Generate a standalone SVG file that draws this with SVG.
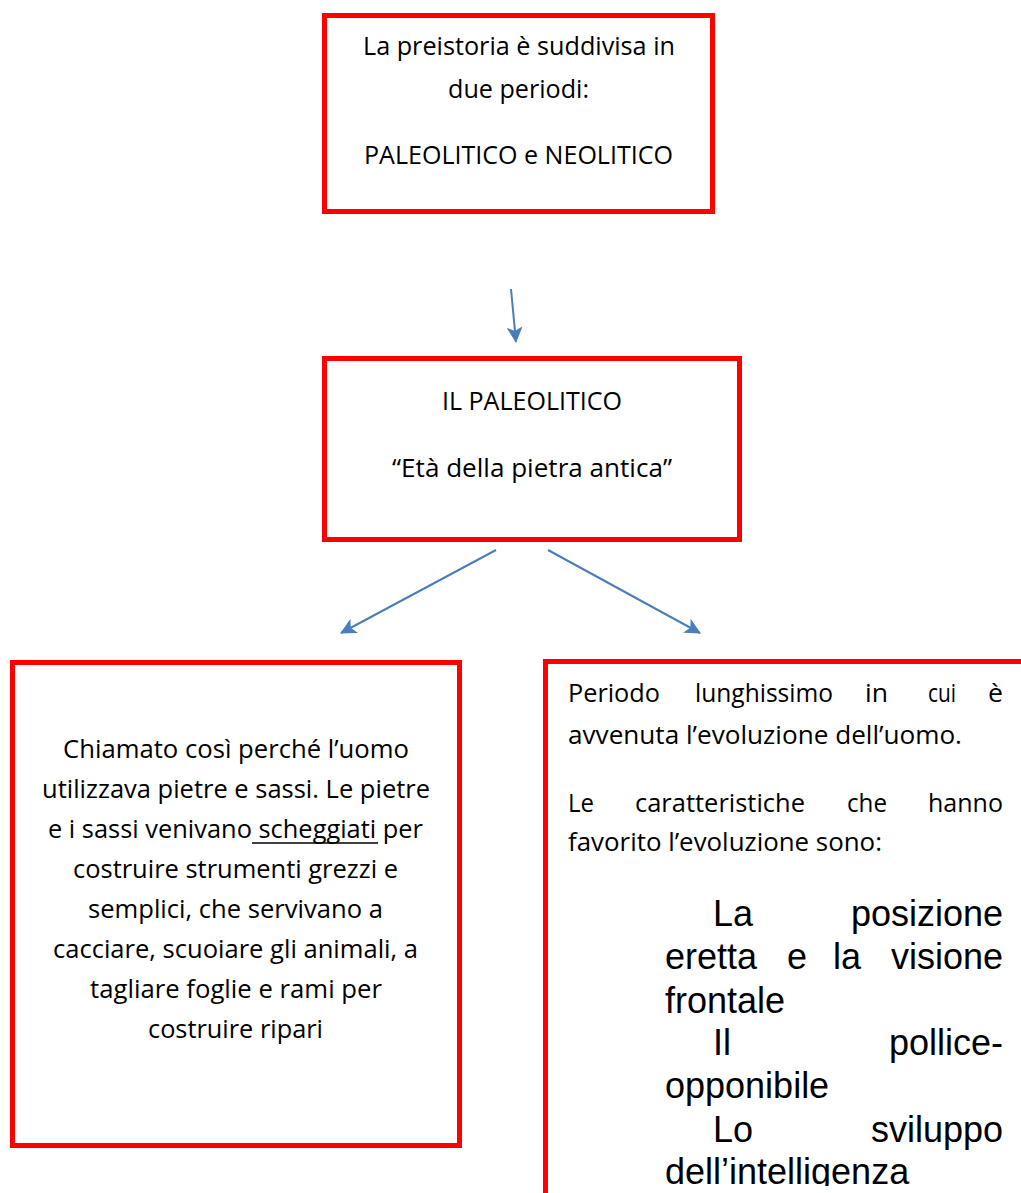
<svg xmlns="http://www.w3.org/2000/svg" width="1021" height="1193" viewBox="0 0 1021 1193">
<style>
.box{fill:#fff;stroke:#ff0000;stroke-width:5}
.c{font-family:"Open Sans",Lato,"Liberation Sans",sans-serif;font-size:26px;fill:#000}
.m{text-anchor:middle}
.e{text-anchor:end}
.a{font-family:"Liberation Sans",Arial,sans-serif;font-size:36px;fill:#000}
.conn{stroke:#4a7ebb;stroke-width:2;fill:none;marker-end:url(#ah)}
</style>
<defs>
<marker id="ah" viewBox="0 0 16 16" refX="15" refY="8" markerWidth="16" markerHeight="16" markerUnits="userSpaceOnUse" orient="auto">
<path d="M0,0 L16,8 L0,16 L4,8 z" fill="#4a7ebb"/>
</marker>
<clipPath id="clipB4"><rect x="0" y="0" width="1021" height="1186"/></clipPath>
</defs>
<rect width="1021" height="1193" fill="#fff"/>

<g id="node-preistoria">
<rect class="box" x="324.5" y="15.5" width="388" height="196"/>
<text class="c m" x="519" y="55" textLength="312" lengthAdjust="spacingAndGlyphs">La preistoria è suddivisa in</text>
<text class="c m" x="518.5" y="98" textLength="141" lengthAdjust="spacingAndGlyphs">due periodi:</text>
<text class="c m" x="518.5" y="164" textLength="309" lengthAdjust="spacingAndGlyphs">PALEOLITICO e NEOLITICO</text>
</g>

<g id="node-paleolitico">
<rect class="box" x="324.5" y="358.5" width="415" height="181"/>
<text class="c m" x="532" y="410" textLength="180" lengthAdjust="spacingAndGlyphs">IL PALEOLITICO</text>
<text class="c m" x="532" y="477" textLength="280" lengthAdjust="spacingAndGlyphs">“Età della pietra antica”</text>
</g>

<g id="node-pietre">
<rect class="box" x="12.5" y="662.5" width="447" height="483"/>
<text class="c m" x="236" y="758" textLength="346" lengthAdjust="spacingAndGlyphs">Chiamato così perché l’uomo</text>
<text class="c m" x="236" y="798" textLength="388" lengthAdjust="spacingAndGlyphs">utilizzava pietre e sassi. Le pietre</text>
<text class="c m" x="235.5" y="838" textLength="375" lengthAdjust="spacingAndGlyphs">e i sassi venivano scheggiati per</text>
<line x1="252" y1="843" x2="378" y2="843" stroke="#000" stroke-width="1.5"/>
<text class="c m" x="235.5" y="878" textLength="325" lengthAdjust="spacingAndGlyphs">costruire strumenti grezzi e</text>
<text class="c m" x="235.5" y="918" textLength="295" lengthAdjust="spacingAndGlyphs">semplici, che servivano a</text>
<text class="c m" x="235.5" y="958" textLength="365" lengthAdjust="spacingAndGlyphs">cacciare, scuoiare gli animali, a</text>
<text class="c m" x="236" y="998" textLength="292" lengthAdjust="spacingAndGlyphs">tagliare foglie e rami per</text>
<text class="c m" x="235.5" y="1038" textLength="175" lengthAdjust="spacingAndGlyphs">costruire ripari</text>
</g>

<g id="node-evoluzione">
<rect class="box" x="545.5" y="661.5" width="600" height="700"/>
<text class="c" x="568" y="702" textLength="92" lengthAdjust="spacingAndGlyphs">Periodo</text>
<text class="c" x="695" y="702" textLength="138" lengthAdjust="spacingAndGlyphs">lunghissimo</text>
<text class="c" x="865" y="702" textLength="23" lengthAdjust="spacingAndGlyphs">in</text>
<text class="c" x="928" y="702" textLength="28" lengthAdjust="spacingAndGlyphs">cui</text>
<text class="c" x="988" y="702" textLength="15" lengthAdjust="spacingAndGlyphs">è</text>
<text class="c" x="568" y="744" textLength="394" lengthAdjust="spacingAndGlyphs">avvenuta l’evoluzione dell’uomo.</text>
<text class="c" x="568" y="812" textLength="26" lengthAdjust="spacingAndGlyphs">Le</text>
<text class="c" x="635" y="812" textLength="170" lengthAdjust="spacingAndGlyphs">caratteristiche</text>
<text class="c" x="847" y="812" textLength="40" lengthAdjust="spacingAndGlyphs">che</text>
<text class="c" x="928" y="812" textLength="75" lengthAdjust="spacingAndGlyphs">hanno</text>
<text class="c" x="568" y="851" textLength="314" lengthAdjust="spacingAndGlyphs">favorito l’evoluzione sono:</text>
<g clip-path="url(#clipB4)">
<text class="a" x="713" y="926">La</text>
<text class="a e" x="1003" y="926">posizione</text>
<text class="a" x="665" y="969">eretta</text>
<text class="a" x="787" y="969">e</text>
<text class="a" x="833" y="969">la</text>
<text class="a e" x="1003" y="969">visione</text>
<text class="a" x="665" y="1013">frontale</text>
<text class="a" x="713" y="1055">Il</text>
<text class="a e" x="1003" y="1055">pollice-</text>
<text class="a" x="665" y="1098">opponibile</text>
<text class="a" x="713" y="1142">Lo</text>
<text class="a e" x="1003" y="1142">sviluppo</text>
<text class="a" x="665" y="1184">dell’intelligenza</text>
</g>
</g>

<g id="connectors">
<line class="conn" x1="511" y1="289" x2="516" y2="342"/>
<line class="conn" x1="496" y1="550" x2="341" y2="633"/>
<line class="conn" x1="548" y1="550" x2="700" y2="633"/>
</g>
</svg>
